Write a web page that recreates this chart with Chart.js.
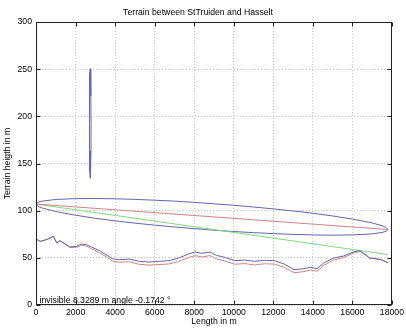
<!DOCTYPE html>
<html>
<head>
<meta charset="utf-8">
<script src="https://cdn.jsdelivr.net/npm/chart.js"></script>
<style>
html, body { margin: 0; padding: 0; background: #fff; }
#wrap { width: 406px; height: 328px; }
</style>
</head>
<body>
<div id="wrap"><canvas id="grafico" width="406" height="328"></canvas></div>
<script>
// perfil del terreno (m)
const distancias = [0, 215, 465, 715, 880, 1050, 1215, 1465, 1715, 2050, 2300, 2550, 2800, 3215, 3550, 3880, 4215, 4715, 5215, 5715, 6215, 6715, 7215, 7715, 8050, 8380, 8800, 9130, 9550, 10050, 10550, 11050, 11550, 12050, 12550, 13050, 13550, 13880, 14215, 14550, 15050, 15550, 16050, 16380, 16550, 16880, 17215, 17465, 17715, 17800];
const terrenoAzul = [70, 67.5, 68.9, 71, 72.8, 65.7, 68.2, 65, 61.5, 62.2, 64.7, 64, 61.5, 57.6, 53.3, 49, 48, 48.7, 46.3, 45.6, 46.3, 47, 49.8, 54.1, 56.2, 54.8, 56.2, 52.6, 50.5, 47, 47.7, 46.3, 47.4, 47, 43.5, 37.5, 38.5, 40, 38.5, 44.5, 49.8, 51.9, 56.2, 57.6, 55.1, 49.8, 49, 48, 45.6, 45];
const terrenoRojo = [70, 67.5, 68.9, 71, 72.8, 65.7, 68.1, 64.7, 61, 61.2, 63.4, 62.4, 59.7, 55.5, 51, 46.5, 45.3, 45.8, 43.2, 42.3, 42.9, 43.5, 46.2, 50.4, 52.4, 51, 52.4, 48.8, 46.7, 43.2, 43.9, 42.5, 43.7, 43.4, 40, 34.2, 35.4, 37.1, 35.8, 42, 47.7, 50.2, 55, 56.9, 54.7, 49.7, 49, 48, 45.6, 45];

// lineas de vista
const lineaVerdeX = [0, 17800];
const lineaVerdeY = [107, 53.5];
const lineaRojaX = [0, 17800];
const lineaRojaY = [107, 80];

// elipse grande (borde superior e inferior)
const elipseX = [0, 100, 300, 1000, 2000, 3000, 4000, 5000, 6000, 7000, 8000, 9000, 10000, 11000, 12000, 13000, 14000, 15000, 16000, 17000, 17500, 17700, 17800];
const elipseSup = [107, 108.9, 110.1, 111.9, 112.8, 112.9, 112.6, 112.0, 111.1, 110.1, 108.8, 107.3, 105.7, 103.9, 101.9, 99.7, 97.3, 94.4, 91.1, 87.0, 84.1, 82.3, 80];
const elipseInf = [107, 104.7, 102.9, 99.1, 95.2, 91.9, 89.2, 86.8, 84.7, 82.7, 81.0, 79.3, 77.9, 76.7, 75.7, 74.9, 74.3, 74.0, 74.3, 75.4, 76.9, 78.1, 80];

// elipse chica vertical
const elipseChicaX = [2740, 2762, 2780, 2786, 2780, 2762, 2740, 2718, 2700, 2694, 2700, 2718, 2740];
const elipseChicaY = [250.5, 242.7, 221.5, 192.5, 163.5, 142.3, 134.5, 142.3, 163.5, 192.5, 221.5, 242.7, 250.5];

// ejes
const ticksX = [0, 2000, 4000, 6000, 8000, 10000, 12000, 14000, 16000, 18000];
const ticksY = [0, 50, 100, 150, 200, 250, 300];

const textoInfo = 'invisible 8.3289 m angle -0.1742 \u00b0';

const AZUL = '#6464ac';
const ROJO = '#d08484';
const VERDE = '#80d880';
const fuente = { family: "'Liberation Sans', Arial, sans-serif", size: 8.7, weight: 'normal' };

function aPuntos(xs, ys) {
    return xs.map((x, i) => ({ x: x, y: ys[i] }));
}

function serie(puntos, color) {
    return {
        data: puntos,
        borderColor: color,
        borderWidth: 1,
        showLine: true,
        pointRadius: 0,
        tension: 0,
        fill: false
    };
}

const elipsePuntos = aPuntos(elipseX, elipseSup).concat(aPuntos(elipseX, elipseInf).reverse());

// caja estilo matlab + marcas internas + texto
const cajaMatlab = {
    id: 'cajaMatlab',
    afterDraw(chart) {
        const { ctx, chartArea: a, scales } = chart;
        const l = Math.round(a.left) + 0.5, r = Math.round(a.right) - 0.5;
        const t = Math.round(a.top) + 0.5, b = Math.round(a.bottom) - 0.5;
        ctx.save();
        ctx.strokeStyle = '#222';
        ctx.lineWidth = 1;
        ctx.strokeRect(l, t, r - l, b - t);
        ctx.beginPath();
        ticksX.forEach(v => {
            const px = Math.round(scales.x.getPixelForValue(v)) + 0.5;
            ctx.moveTo(px, b); ctx.lineTo(px, b - 4);
            ctx.moveTo(px, t); ctx.lineTo(px, t + 4);
        });
        ticksY.forEach(v => {
            const py = Math.round(scales.y.getPixelForValue(v)) + 0.5;
            ctx.moveTo(l, py); ctx.lineTo(l + 4, py);
            ctx.moveTo(r, py); ctx.lineTo(r - 4, py);
        });
        ctx.stroke();

        ctx.fillStyle = '#000';
        ctx.font = `${fuente.size}px ${fuente.family}`;
        ctx.textAlign = 'left';
        ctx.textBaseline = 'middle';
        ctx.fillText(textoInfo, scales.x.getPixelForValue(180), scales.y.getPixelForValue(4.5));
        ctx.restore();
    }
};

document.addEventListener('DOMContentLoaded', function() {
    const ctx = document.getElementById('grafico').getContext('2d');
    new Chart(ctx, {
        type: 'scatter',
        data: {
            datasets: [
                serie(aPuntos(distancias, terrenoAzul), AZUL),
                serie(aPuntos(distancias, terrenoRojo), ROJO),
                serie(aPuntos(lineaRojaX, lineaRojaY), ROJO),
                serie(aPuntos(lineaVerdeX, lineaVerdeY), VERDE),
                serie(elipsePuntos, AZUL),
                serie(aPuntos(elipseChicaX, elipseChicaY), AZUL)
            ]
        },
        options: {
            responsive: false,
            animation: false,
            devicePixelRatio: 1,
            layout: { padding: { left: 0, right: 10, top: 0, bottom: 0 } },
            plugins: {
                legend: { display: false },
                tooltip: { enabled: false },
                title: {
                    display: true,
                    text: 'Terrain between StTruiden and Hasselt',
                    color: '#000',
                    font: fuente,
                    padding: { top: 7, bottom: 4.6 }
                }
            },
            scales: {
                x: {
                    type: 'linear',
                    min: ticksX[0],
                    max: ticksX[ticksX.length - 1],
                    afterFit: s => { s.height = 23; },
                    ticks: {
                        stepSize: 2000,
                        autoSkip: false,
                        maxRotation: 0,
                        padding: 2,
                        color: '#000',
                        font: fuente,
                        callback: v => String(v)
                    },
                    grid: { color: '#c8c8c8', lineWidth: 1, drawTicks: false },
                    border: { display: false, dash: [1, 2] },
                    title: { display: true, text: 'Length in m', color: '#000', font: fuente, padding: { top: 0, bottom: 1 } }
                },
                y: {
                    type: 'linear',
                    min: ticksY[0],
                    max: ticksY[ticksY.length - 1],
                    afterFit: s => { s.width = 36; },
                    ticks: {
                        stepSize: 50,
                        padding: 4,
                        color: '#000',
                        font: fuente,
                        callback: v => String(v)
                    },
                    grid: { color: '#c8c8c8', lineWidth: 1, drawTicks: false },
                    border: { display: false, dash: [1, 2] },
                    title: { display: true, text: 'Terrain heigth in m', color: '#000', font: fuente, padding: { top: 2, bottom: 0 } }
                }
            }
        },
        plugins: [cajaMatlab]
    });
});
</script>
</body>
</html>
